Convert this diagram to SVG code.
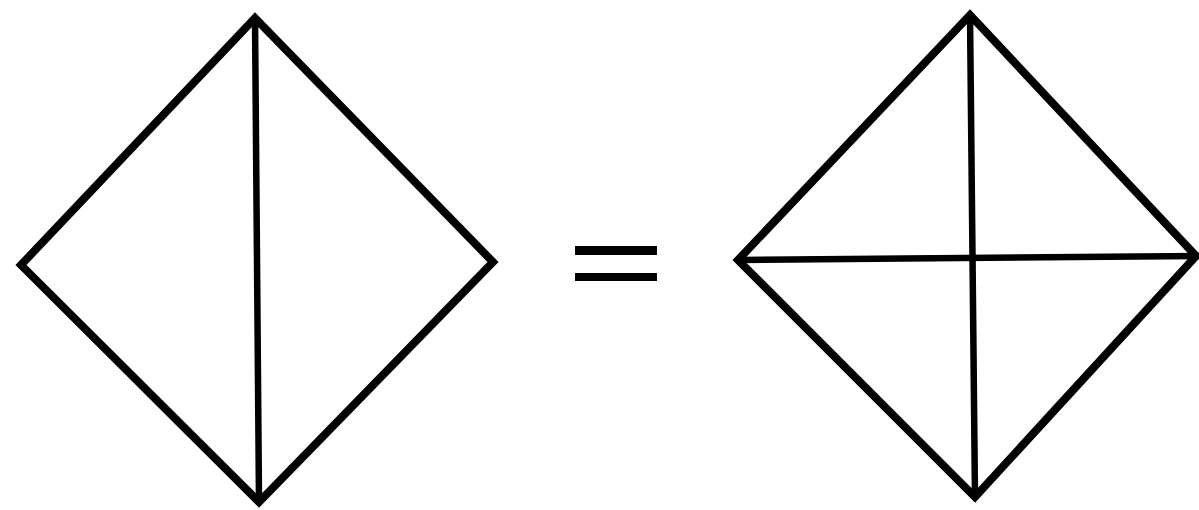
<svg xmlns="http://www.w3.org/2000/svg" width="1199" height="510" viewBox="0 0 1199 510">
<style>
.edge{fill:none;stroke:#000;stroke-width:8;stroke-linejoin:miter;stroke-miterlimit:10}
.line{stroke:#000;stroke-width:6.5;fill:none}
.bar{fill:#000}
</style>
<rect width="1199" height="510" fill="#fff"/>
<g id="left-diamond">
<polygon class="edge" points="255,18 493,262 259,502 21,265"/>
<line class="line" x1="255" y1="18" x2="259" y2="502"/>
</g>
<g id="equals">
<rect class="bar" x="575" y="246" width="82" height="9"/>
<rect class="bar" x="575" y="273" width="82" height="8"/>
</g>
<g id="right-diamond">
<polygon class="edge" points="970,15 1196,256 975,497 738,260"/>
<line class="line" x1="970" y1="15" x2="975" y2="497"/>
<line class="line" x1="738" y1="260" x2="1199" y2="256"/>
</g>
</svg>
